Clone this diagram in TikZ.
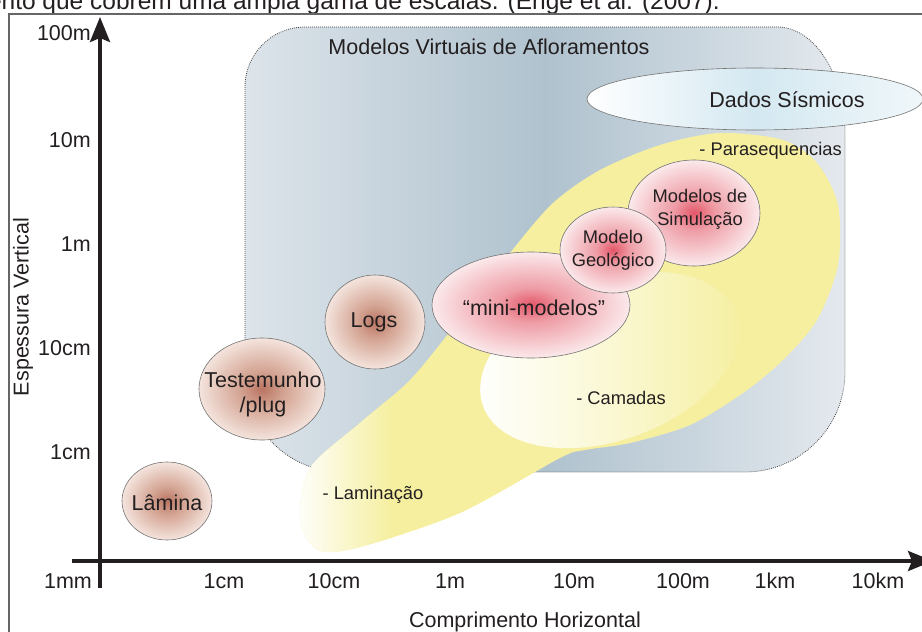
\documentclass[tikz,border=0pt]{standalone}
\usepackage{fontspec}
\setmainfont{Liberation Sans}
\usetikzlibrary{shapes.geometric,arrows.meta}

\definecolor{vmaL}{HTML}{DDE4EA}
\definecolor{vmaM}{HTML}{AFC2CE}
\definecolor{vmaR}{HTML}{E4E9EE}
\definecolor{ylw}{HTML}{F5EF9F}
\definecolor{dadosM}{HTML}{D4E8F1}
\definecolor{dadosR}{HTML}{F0F7FA}
\definecolor{brC}{HTML}{BA7462}
\definecolor{brM}{HTML}{D4A493}
\definecolor{brE}{HTML}{F4E4DD}
\definecolor{rdC}{HTML}{E35668}
\definecolor{rdM}{HTML}{EE9CA5}
\definecolor{rdE}{HTML}{FBE9EB}
\definecolor{txt}{HTML}{231F20}

\pgfdeclareradialshading{brownshade}{\pgfpoint{0bp}{0bp}}{color(0bp)=(brC); color(9bp)=(brM); color(25bp)=(brE); color(50bp)=(brE)}
\pgfdeclareradialshading{redshade}{\pgfpoint{0bp}{0bp}}{color(0bp)=(rdC); color(8bp)=(rdM); color(25bp)=(rdE); color(50bp)=(rdE)}

\newcommand\lblfont{\fontsize{21.5}{25}\selectfont}
\newcommand\ballfont{\fontsize{18.3}{23}\selectfont}
\newcommand\capfont{\fontsize{24.5}{28}\selectfont}

\begin{document}
\begin{tikzpicture}[x=1pt,y=-1pt,
 ballline/.style={draw=black!55,line width=0.6pt},
 bigtext/.style={font=\lblfont,text=txt,inner sep=0pt,align=center},
 smalltext/.style={font=\ballfont,text=txt,inner sep=0pt,align=center},
 axisline/.style={line width=3.5pt,txt,-{Stealth[length=25pt,width=20pt,inset=4pt]}}
]
 \useasboundingbox (0,0) rectangle (922,632);
 \clip (0,0) rectangle (922,632);
 \node[font=\capfont,text=txt,inner sep=0pt,anchor=base east] (legenda) at (720,9)
 {mento que cobrem uma ampla gama de escalas. (Enge et al. (2007).};
 \draw[line width=1.5pt,black!60] (9,14) rectangle (940,650);
 \shade[left color=vmaL,right color=vmaR,middle color=vmaM,
 draw=black!75,line width=0.8pt,dash pattern=on 0.8pt off 1.2pt]
 (245,87) -- (245,375) .. controls (245,428.6) and (288.4,472) .. (342,472)
 -- (745,472) .. controls (800.2,472) and (845,427.2) .. (845,372)
 -- (845,133) .. controls (845,74.5) and (814.5,27) .. (777,27)
 -- (305,27) .. controls (271.9,27) and (245,53.9) .. (245,87) -- cycle
 ;
 \begin{scope}
 \clip plot[smooth cycle] coordinates {
 (300,520) (310,468) (360,423) (410,380) (455,325) (510,253) (553,203)
 (600,170) (660,145) (720,133) (783,140) (817,163) (838,205) (838,265)
 (817,320) (783,360) (743,393) (690,425) (630,443) (585,450) (560,458)
 (460,513) (360,547) (318,550)};
 \fill[ylw] (280,120) rectangle (850,560);
 \shade[left color=white,right color=ylw] (294,380) rectangle (392,560);
 \end{scope}
 \shade[left color=white,right color=ylw,middle color=ylw!45!white,
 rotate around={20:(610,360)}]
 (610,360) ellipse [x radius=135, y radius=80];
 \shade[ballline,left color=white,right color=dadosR,middle color=dadosM]
 (755,99) ellipse [x radius=168, y radius=31];
 \node[bigtext] (vmatitulo) at (489,47) {Modelos Virtuais de Afloramentos};
 \node[bigtext] (sismicos) at (787,100) {Dados Sísmicos};
 \draw
 (842,151) node[smalltext,anchor=east] (parasequencias) {- Parasequencias}
 (621,398) node[smalltext] (camadas) {- Camadas}
 (373,495) node[smalltext] (laminacao) {- Laminação}
 ;
 \shade[ballline,shading=brownshade] (167,501) ellipse [x radius=45, y radius=39];
 \shade[ballline,shading=brownshade] (262,389) ellipse [x radius=63, y radius=51];
 \shade[ballline,shading=brownshade] (375,322) ellipse [x radius=50, y radius=47];
 \shade[ballline,shading=redshade] (531,305) ellipse [x radius=99, y radius=53];
 \shade[ballline,shading=redshade] (694,213) ellipse [x radius=66, y radius=53];
 \shade[ballline,shading=redshade] (613,250) ellipse [x radius=53, y radius=43];
 \node[bigtext] (lamina) at (167,503) {Lâmina};
 \node[bigtext] (testemunho) at (263,394) {Testemunho\\/plug};
 \node[bigtext] (logs) at (374,322) {Logs};
 \node[bigtext] (mini) at (534,308) {“mini-modelos”};
 \node[smalltext] (geologico) at (613,250) {Modelo\\Geológico};
 \node[smalltext] (simulacao) at (700,209) {Modelos de\\Simulação};
 \draw[axisline] (100,588) -- (100,17);
 \draw[axisline] (72,561) -- (933,561);
 \draw
 (91,33) node[bigtext,anchor=east] (y100m) {100m}
 (91,140) node[bigtext,anchor=east] (y10m) {10m}
 (91,244) node[bigtext,anchor=east] (y1m) {1m}
 (91,348) node[bigtext,anchor=east] (y10cm) {10cm}
 (91,452) node[bigtext,anchor=east] (y1cm) {1cm}
 (68,581) node[bigtext] (x1mm) {1mm}
 (224,581) node[bigtext] (x1cm) {1cm}
 (334,581) node[bigtext] (x10cm) {10cm}
 (450,581) node[bigtext] (x1m) {1m}
 (574,581) node[bigtext] (x10m) {10m}
 (683,581) node[bigtext] (x100m) {100m}
 (775,581) node[bigtext] (x1km) {1km}
 (878,581) node[bigtext] (x10km) {10km}
 ;
 \node[bigtext,rotate=90] (eixoy) at (23,307) {Espessura Vertical};
 \node[bigtext] (eixox) at (525,622) {Comprimento Horizontal};
\end{tikzpicture}
\end{document}
